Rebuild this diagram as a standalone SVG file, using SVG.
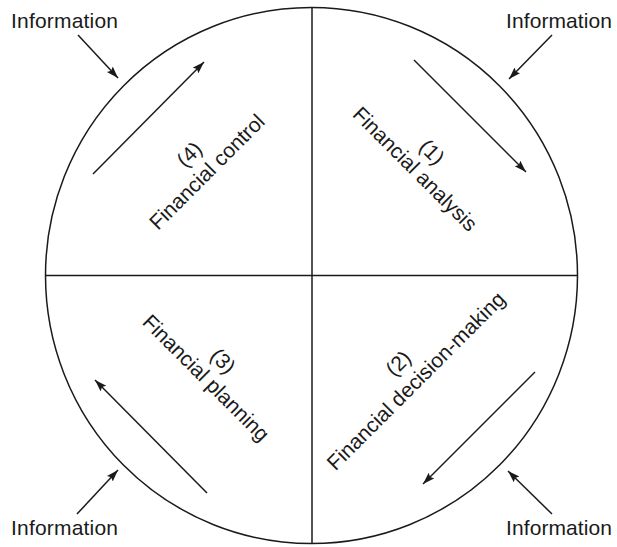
<svg xmlns="http://www.w3.org/2000/svg" width="617" height="547" viewBox="0 0 617 547">
<style>
  .lbl { font-family: "Liberation Sans", Arial, sans-serif; font-size: 21px; fill: #1a1a1a; }
  .ln { stroke: #1a1a1a; stroke-width: 1.5; fill: none; }
  .arr { stroke: #1a1a1a; stroke-width: 1.5; fill: none; marker-end: url(#ah); }
</style>
<defs>
  <marker id="ah" markerUnits="userSpaceOnUse" markerWidth="14" markerHeight="10" refX="12" refY="4" orient="auto">
    <path d="M0,0 L12,4 L0,8 L2,4 z" fill="#1a1a1a"/>
  </marker>
</defs>
<rect width="617" height="547" fill="#ffffff"/>
<g id="circle">
  <ellipse cx="311.5" cy="275.5" rx="266" ry="268" class="ln"/>
  <line x1="45.5" y1="275.5" x2="577.5" y2="275.5" class="ln"/>
  <line x1="312" y1="7.5" x2="312" y2="543.5" class="ln"/>
</g>
<g id="connectors">
  <line x1="78" y1="35" x2="118" y2="78" class="arr"/>
  <line x1="552" y1="35" x2="509" y2="79" class="arr"/>
  <line x1="77" y1="514" x2="118" y2="470" class="arr"/>
  <line x1="552" y1="514" x2="508" y2="471" class="arr"/>
  <line x1="93" y1="174" x2="204" y2="62" class="arr"/>
  <line x1="414" y1="60" x2="526" y2="172" class="arr"/>
  <line x1="535" y1="372" x2="423" y2="484" class="arr"/>
  <line x1="207" y1="493" x2="95" y2="380" class="arr"/>
</g>
<g id="info-tl"><text class="lbl" x="11" y="28" textLength="107">Information</text></g>
<g id="info-tr"><text class="lbl" x="506" y="28" textLength="106">Information</text></g>
<g id="info-bl"><text class="lbl" x="11" y="535" textLength="107">Information</text></g>
<g id="info-br"><text class="lbl" x="506" y="535" textLength="106">Information</text></g>
<g id="q1" transform="translate(410,174) rotate(45)">
  <text class="lbl" x="0" y="-24" text-anchor="middle">(1)</text>
  <text class="lbl" x="0" y="0" text-anchor="middle">Financial analysis</text>
</g>
<g id="q2" transform="translate(421,386) rotate(-45)">
  <text class="lbl" x="0" y="-25" text-anchor="middle">(2)</text>
  <text class="lbl" x="0" y="0" text-anchor="middle">Financial decision-making</text>
</g>
<g id="q3" transform="translate(201,383) rotate(45)">
  <text class="lbl" x="0" y="-24" text-anchor="middle">(3)</text>
  <text class="lbl" x="0" y="0" text-anchor="middle">Financial planning</text>
</g>
<g id="q4" transform="translate(212,177) rotate(-45)">
  <text class="lbl" x="0" y="-25" text-anchor="middle">(4)</text>
  <text class="lbl" x="0" y="0" text-anchor="middle">Financial control</text>
</g>
</svg>
